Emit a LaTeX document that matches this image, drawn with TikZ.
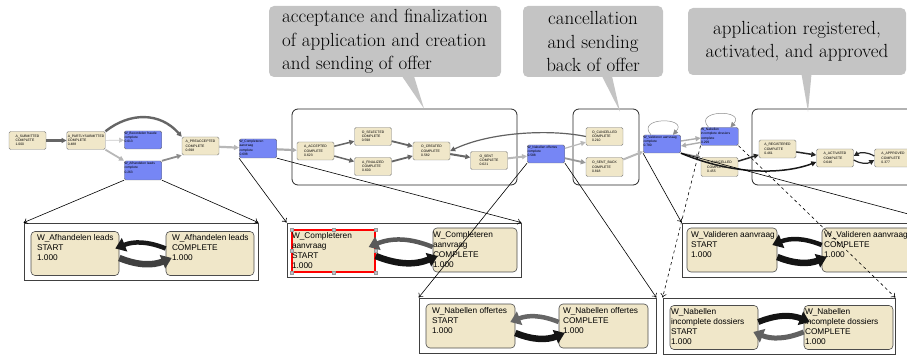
\documentclass[tikz,border=0pt]{standalone}
\usepackage{fontspec}
\newfontfamily\prosans{Liberation Sans}
\usetikzlibrary{arrows.meta}
\definecolor{wblue}{RGB}{118,134,245}
\definecolor{abeige}{RGB}{240,231,201}
\definecolor{callgray}{RGB}{196,196,196}

\begin{document}
\begin{tikzpicture}[x=1pt,y=-1pt,
   evt/.style={draw=black!50,fill=abeige,rounded corners=1.5pt,minimum width=37pt,minimum height=18pt,
      inner sep=1pt,align=left,font=\prosans\fontsize{3.4}{4.3}\selectfont},
   wrk/.style={draw=black!55,fill=wblue,rounded corners=1.5pt,minimum width=37.5pt,minimum height=18pt,
      inner sep=0.25pt,font=\prosans\fontsize{3.3}{4.3}\selectfont,
      execute at begin node={\begin{minipage}[t][16.5pt][t]{37pt}\raggedright},
      execute at end node={\end{minipage}}},
   grp/.style={draw=black!85,line width=0.8pt,rounded corners=6pt,minimum height=76pt},
   note/.style={fill=callgray,rounded corners=5pt,minimum height=71pt,inner sep=3pt,
      font=\fontsize{19}{23.5}\selectfont},
   panel/.style={draw=black!75,line width=0.8pt},
   stnode/.style 2 args={draw=black!70,fill=abeige,rounded corners=4pt,line width=0.6pt,
      minimum width=#1,minimum height=44pt,inner sep=0pt,font=\prosans\fontsize{8.3}{10}\selectfont,
      execute at begin node={\begin{minipage}[t][38pt][t]{#1}\raggedright\leftskip=#2\relax},
      execute at end node={\end{minipage}}},
   flow/.style={-{Triangle[length=5pt,width=5pt]}},
   link/.style={-{To[length=4pt,width=6pt]},line width=0.6pt},
   bigarrow/.style={line width=#1,-{Triangle[length=10pt,width=14pt]}}]

   \useasboundingbox (0,0) rectangle (907,355);
   \clip (0,0) rectangle (907,355);

   % groups of the process model
   \node[grp,minimum width=225pt] (accgrp) at (404.5,147) {};
   \node[grp,minimum width=66pt] (cangrp) at (606,147) {};
   \node[grp,minimum width=163pt] (reggrp) at (833.5,147) {};

   % callouts
   \node[note,minimum width=232pt,align=left] (accnote) at (385,41.5) {acceptance and finalization\\of application and creation\\and sending of offer};
   \node[note,minimum width=140pt,align=center] (cannote) at (593,41.5) {cancellation\\and sending\\back of offer};
   \node[note,minimum width=218pt,minimum height=67pt,align=center] (regnote) at (797,41.5) {application registered,\\activated, and approved};
   \fill[callgray] ([xshift=17pt,yshift=1pt]accnote.south) -- ([xshift=29pt,yshift=1pt]accnote.south) -- ([xshift=19.5pt]accgrp.north) -- cycle;
   \fill[callgray] ([xshift=9pt,yshift=1pt]cannote.south) -- ([xshift=19pt,yshift=1pt]cannote.south) -- ([xshift=14pt,yshift=-3pt]cangrp.north) -- cycle;
   \fill[callgray] ([xshift=4.5pt,yshift=1pt]regnote.south) -- ([xshift=14.5pt,yshift=1pt]regnote.south) -- ([xshift=-25.5pt,yshift=-3pt]reggrp.north) -- cycle;

   % events
   \node[evt] (sub) at (27.5,140.5) {A\_SUBMITTED\\COMPLETE\\1.000};
   \node[evt] (part) at (86,140.5) {A\_PARTLYSUBMITTED\\COMPLETE\\0.488};
   \node[wrk] (beo) at (143,140) {W\_Beoordelen fraude\\complete\\0.013};
   \node[wrk,minimum height=19pt] (afh) at (143,170.5) {W\_Afhandelen leads\\complete\\0.263};
   \node[evt] (pre) at (200.5,146) {A\_PREACCEPTED\\COMPLETE\\0.698};
   \node[wrk,minimum height=19pt] (comp) at (258,148.5) {W\_Completeren\\aanvraag\\complete\\0.698};
   \node[evt] (acc) at (315.5,151) {A\_ACCEPTED\\COMPLETE\\0.623};
   \node[evt] (sel) at (373,136.5) {O\_SELECTED\\COMPLETE\\0.598};
   \node[evt] (fin) at (373,166.5) {A\_FINALIZED\\COMPLETE\\0.600};
   \node[evt] (cre) at (431.5,151) {O\_CREATED\\COMPLETE\\0.582};
   \node[evt] (sent) at (489,160.5) {O\_SENT\\COMPLETE\\0.621};
   \node[wrk] (nab) at (546,154) {W\_Nabellen offertes\\complete\\0.588};
   \node[evt] (canc) at (604.5,136.5) {O\_CANCELLED\\COMPLETE\\0.210};
   \node[evt,minimum height=19pt] (back) at (604.5,167) {O\_SENT\_BACK\\COMPLETE\\0.818};
   \node[wrk] (val) at (662,144) {W\_Valideren aanvraag\\complete\\0.780};
   \node[wrk] (nid) at (719.5,136.5) {W\_Nabellen\\incomplete dossiers\\complete\\0.299};
   \node[evt,minimum height=19pt] (acan) at (719.5,167) {A\_CANCELLED\\COMPLETE\\0.455};
   \node[evt] (reg) at (777.5,149) {A\_REGISTERED\\COMPLETE\\0.461};
   \node[evt] (act) at (835,158) {A\_ACTIVATED\\COMPLETE\\0.646};
   \node[evt] (appr) at (893,158) {A\_APPROVED\\COMPLETE\\0.377};

   % flow between events
   \draw[flow,draw=black!60,line width=2.4pt] (sub) -- (part);
   \draw[flow,draw=black!60,line width=2.4pt] (part.north east) .. controls (130,112) and (160,112) .. (pre.north west);
   \draw[flow,draw=black!22,line width=0.6pt] (part) -- (beo);
   \draw[flow,draw=black!28,line width=1.8pt] (part.south east) -- (afh.north west);
   \draw[flow,draw=black!45,line width=1.8pt] (afh.north east) -- (pre.south west);
   \draw[flow,draw=black!28,line width=2.2pt] (pre) -- (comp);
   \draw[flow,draw=black!32,line width=2.2pt] (comp) -- (acc);
   \draw[flow,draw=black!60,line width=1.5pt] (acc) -- (sel);
   \draw[flow,draw=black!60,line width=1.5pt] (acc) -- (fin);
   \draw[flow,draw=black!60,line width=1.8pt] (sel) -- (cre);
   \draw[flow,draw=black!60,line width=1.8pt] (fin) -- (cre);
   \draw[flow,draw=black!60,line width=2pt] (cre) -- (sent);
   \draw[flow,draw=black!28,line width=2pt] (sent) -- (nab);
   \draw[flow,draw=black!62,line width=1.2pt] (canc.west) .. controls (550,129) and (490,132) .. (cre.east);
   \draw[flow,draw=black!28,line width=1.2pt] (nab) -- (canc);
   \draw[flow,draw=black!40,line width=1.8pt] (nab) -- (back);
   \draw[flow,draw=black!28,line width=2pt] (back) -- (val);
   \draw[flow,draw=black!45,line width=0.5pt] ([xshift=-11pt]val.north) .. controls +(-16,-18) and +(16,-18) .. ([xshift=11pt]val.north);
   \draw[flow,draw=black!32,line width=1.4pt] ([yshift=3pt]val.east) -- ([yshift=-1.5pt]nid.west);
   \draw[flow,draw=black!32,line width=1.4pt] ([yshift=-6pt]nid.west) -- ([yshift=-2pt]val.east);
   \draw[flow,draw=black!45,line width=0.5pt] ([xshift=-11pt]nid.north) .. controls +(-16,-18) and +(16,-18) .. ([xshift=11pt]nid.north);
   \draw[flow,draw=black!45,line width=1.5pt] (val.south east) -- (acan.north west);
   \draw[flow,draw=black!90,line width=1.5pt] (val.south east) .. controls (735,176) and (785,174) .. ([yshift=-4pt]act.west);
   \draw[flow,draw=black!85,line width=1.5pt] (acan) -- (reg);
   \draw[flow,draw=black!85,line width=1.5pt] (reg) -- (act);
   \draw[flow,draw=black!85,line width=1.2pt] ([yshift=2pt]appr.west) to[bend right=30] ([yshift=2pt]act.east);
   \draw[flow,draw=black!85,line width=1.2pt] ([yshift=-2pt]act.east) to[bend right=30] ([yshift=-2pt]appr.west);

   % detail panels
   \node[panel,minimum width=234pt,minimum height=57pt] (afhpanel) at (141,251.5) {};
   \node[stnode={88pt}{6pt}] (afhS) at (75,253.5) {W\_Afhandelen leads\\START\\1.000};
   \node[stnode={88pt}{6pt}] (afhC) at (210,253.5) {W\_Afhandelen leads\\COMPLETE\\1.000};
   \draw[bigarrow=4.5pt,draw=black!90] ([yshift=5pt]afhC.west) to[bend right=22] ([xshift=-4pt,yshift=5pt]afhS.east);
   \draw[bigarrow=6.5pt,draw=black!75] ([yshift=-4.5pt]afhS.east) to[bend right=22] ([xshift=6pt,yshift=-4.5pt]afhC.west);

   \node[panel,minimum width=234pt,minimum height=54pt] (comppanel) at (404,250) {};
   \node[stnode={83pt}{0pt},minimum height=42pt,draw=red,fill=abeige,line width=1.3pt,sharp corners] (compS) at (333.5,251) {W\_Completeren\\aanvraag\\START\\1.000};
   \foreach \a in {north west,north,north east,east,south east,south,south west,west}
      \filldraw[fill=blue!15!black!25,draw=black!40,line width=0.3pt] ([xshift=-1.5pt,yshift=-1.5pt]compS.\a) rectangle ([xshift=1.5pt,yshift=1.5pt]compS.\a);
   \node[stnode={84pt}{0pt}] (compC) at (475,250) {W\_Completeren\\aanvraag\\COMPLETE\\1.000};
   \draw[bigarrow=4.5pt,draw=black!65] ([yshift=3pt]compC.west) to[bend right=22] ([xshift=-7pt,yshift=4pt]compS.east);
   \draw[bigarrow=6.5pt,draw=black!92] ([yshift=-5pt]compS.east) to[bend right=22] ([xshift=5pt,yshift=-6pt]compC.west);

   \node[panel,minimum width=237pt,minimum height=55pt] (nabpanel) at (537.5,325.5) {};
   \node[stnode={89pt}{6pt}] (nabS) at (470.5,326) {W\_Nabellen offertes\\START\\1.000};
   \node[stnode={89pt}{4pt}] (nabC) at (603.5,326) {W\_Nabellen offertes\\COMPLETE\\1.000};
   \draw[bigarrow=4.5pt,draw=black!60] ([yshift=4pt]nabC.west) to[bend right=22] ([xshift=-5pt,yshift=4pt]nabS.east);
   \draw[bigarrow=6.5pt,draw=black!92] ([yshift=-7pt]nabS.east) to[bend right=22] ([xshift=6pt,yshift=-7pt]nabC.west);

   \node[panel,minimum width=258pt,minimum height=54pt] (valpanel) at (811,250) {};
   \node[stnode={90pt}{4pt}] (valS) at (732,250) {W\_Valideren aanvraag\\START\\1.000};
   \node[stnode={90pt}{2pt}] (valC) at (867,250) {W\_Valideren aanvraag\\COMPLETE\\1.000};
   \draw[bigarrow=4.5pt,draw=black!92] ([yshift=5pt]valC.west) to[bend right=22] ([xshift=-5pt,yshift=5pt]valS.east);
   \draw[bigarrow=6.5pt,draw=black!92] ([yshift=-7pt]valS.east) to[bend right=22] ([xshift=5pt,yshift=-7pt]valC.west);

   \node[panel,minimum width=232pt,minimum height=56pt] (nidpanel) at (779,326) {};
   \node[stnode={88pt}{1pt}] (nidS) at (714,327.5) {W\_Nabellen\\incomplete dossiers\\START\\1.000};
   \node[stnode={89pt}{1pt}] (nidC) at (848.5,327.5) {W\_Nabellen\\incomplete dossiers\\COMPLETE\\1.000};
   \draw[bigarrow=6pt,draw=black!92] ([yshift=5.5pt]nidS.east) to[bend left=22] ([xshift=6pt,yshift=5.5pt]nidC.west);
   \draw[bigarrow=5pt,draw=black!62] ([yshift=-4.5pt]nidC.west) to[bend left=22] ([xshift=-5pt,yshift=-4.5pt]nidS.east);

   % links from the work items to their panels
   \draw[link] (afh.south west) -- (afhpanel.north west);
   \draw[link] (afh.south east) -- (afhpanel.north east);
   \draw[link] (comp.south west) -- (comppanel.north west);
   \draw[link] (comp.south east) -- (comppanel.north east);
   \draw[link] (nab.south west) -- (nabpanel.north west);
   \draw[link] (nab.south east) -- (nabpanel.north east);
   \draw[link] (val.south west) -- (valpanel.north west);
   \draw[link] (val.south east) -- (valpanel.north east);
   \draw[link,dashed] (nid.south west) -- (nidpanel.north west);
   \draw[link,dashed] (nid.south east) -- (nidpanel.north east);
\end{tikzpicture}
\end{document}
